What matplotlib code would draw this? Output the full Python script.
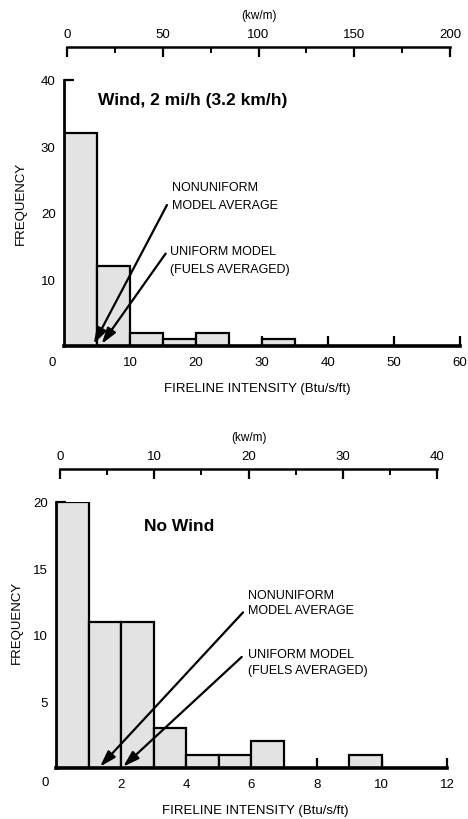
import matplotlib
matplotlib.use("Agg")
import matplotlib.pyplot as plt

plt.rcParams['font.family'] = ['Liberation Sans', 'DejaVu Sans']

# ---------------- data ----------------
wind_bin_edges = [0, 5, 10, 15, 20, 25, 30]
wind_counts = [32, 12, 2, 1, 2, 0, 1]
wind_bin_width = 5
wind_nonuniform_avg = 4.5
wind_uniform_avg = 5.7
wind_xticks = [10, 20, 30, 40, 50, 60]
wind_yticks = [10, 20, 30, 40]
wind_kw_ticks = [0, 50, 100, 150, 200]
wind_kw_minor = [25, 75, 125, 175]

nowind_bin_edges = [0, 1, 2, 3, 4, 5, 6, 7, 8, 9]
nowind_counts = [20, 11, 11, 3, 1, 1, 2, 0, 0, 1]
nowind_bin_width = 1
nowind_nonuniform_avg = 1.35
nowind_uniform_avg = 2.06
nowind_xticks = [2, 4, 6, 8, 10, 12]
nowind_yticks = [5, 10, 15, 20]
nowind_kw_ticks = [0, 10, 20, 30, 40]
nowind_kw_minor = [5, 15, 25, 35]

W, H = 468, 820
fig = plt.figure(figsize=(W / 100, H / 100), dpi=100)

TICK_FS = 9.5
LABEL_FS = 9.5
ANN_FS = 9


def rect(l, r, top, bot):
    return [l / W, 1 - bot / H, (r - l) / W, (bot - top) / H]


def main_axes(pos, xmax, ymax, edges, counts, width, xticks, yticks):
    ax = fig.add_axes(pos)
    ax.bar(edges, counts, width=width, align='edge', facecolor='#e3e3e3',
           edgecolor='black', linewidth=1.6, zorder=2)
    ax.set_xlim(0, xmax)
    ax.set_ylim(0, ymax)
    for s in ['top', 'right']:
        ax.spines[s].set_visible(False)
    ax.spines['left'].set_linewidth(2)
    ax.spines['bottom'].set_linewidth(2.6)
    ax.spines['bottom'].set_zorder(3)
    ax.set_xticks(xticks)
    ax.set_yticks(yticks)
    ax.tick_params(axis='both', direction='in', length=7, width=1.6,
                   labelsize=TICK_FS)
    ax.tick_params(axis='x', pad=7)
    ax.tick_params(axis='y', pad=6)
    ax.set_ylabel('FREQUENCY', fontsize=LABEL_FS)
    ax.set_xlabel('FIRELINE INTENSITY (Btu/s/ft)', fontsize=LABEL_FS)
    return ax


def kw_axes(pos, xmax, ticks, minor):
    ax = fig.add_axes(pos)
    ax.set_xlim(0, xmax)
    ax.set_ylim(0, 1)
    for s in ['bottom', 'left', 'right']:
        ax.spines[s].set_visible(False)
    ax.spines['top'].set_linewidth(1.8)
    ax.set_yticks([])
    ax.xaxis.tick_top()
    ax.set_xticks(ticks)
    ax.set_xticks(minor, minor=True)
    ax.tick_params(axis='x', which='major', direction='in', length=7,
                   width=1.6, labelsize=TICK_FS, pad=5)
    ax.tick_params(axis='x', which='minor', direction='in', length=4,
                   width=1.4)
    ax.xaxis.set_label_position('top')
    ax.set_xlabel('(kw/m)', fontsize=8.5, labelpad=7)
    ax.patch.set_visible(False)
    return ax


def arrow(ax, tip, start):
    ax.annotate('', xy=tip, xytext=start,
                arrowprops=dict(arrowstyle='-|>,head_length=0.8,head_width=0.25',
                                lw=1.6, color='black', shrinkA=0, shrinkB=0,
                                mutation_scale=12), zorder=5)


# ---------------- top: wind ----------------
ax1 = main_axes(rect(64, 460, 81, 347), 60, 40, wind_bin_edges, wind_counts,
                wind_bin_width, wind_xticks, wind_yticks)
ax1.yaxis.set_label_coords(-0.093, 0.54)
ax1.xaxis.set_label_coords(0.487, -0.137)
ax1.text(-1.8, -2.4, '0', ha='center', va='center', fontsize=TICK_FS)
ax1.text(5.1, 37.1, 'Wind, 2 mi/h (3.2 km/h)', fontsize=12.5,
         fontweight='bold', ha='left', va='center')
ax1.text(16.4, 22.55, 'NONUNIFORM\nMODEL AVERAGE', fontsize=ANN_FS,
         ha='left', va='center', linespacing=1.75)
ax1.text(16.1, 12.9, 'UNIFORM MODEL\n(FUELS AVERAGED)', fontsize=ANN_FS,
         ha='left', va='center', linespacing=1.65)
arrow(ax1, (wind_nonuniform_avg, 0.3), (15.6, 21.2))
arrow(ax1, (wind_uniform_avg, 0.3), (15.4, 13.9))

kw_axes(rect(67, 450, 48, 58), 200, wind_kw_ticks, wind_kw_minor)

# ---------------- bottom: no wind ----------------
ax2 = main_axes(rect(56, 447, 503, 769), 12, 20, nowind_bin_edges,
                nowind_counts, nowind_bin_width, nowind_xticks, nowind_yticks)
ax2.yaxis.set_label_coords(-0.085, 0.55)
ax2.xaxis.set_label_coords(0.509, -0.137)
ax2.text(-0.33, -1.05, '0', ha='center', va='center', fontsize=TICK_FS)
ax2.text(2.7, 18.2, 'No Wind', fontsize=12.5, fontweight='bold',
         ha='left', va='center')
ax2.text(5.89, 12.44, 'NONUNIFORM\nMODEL AVERAGE', fontsize=ANN_FS,
         ha='left', va='center', linespacing=1.3)
ax2.text(5.89, 7.97, 'UNIFORM MODEL\n(FUELS AVERAGED)', fontsize=ANN_FS,
         ha='left', va='center', linespacing=1.5)
arrow(ax2, (nowind_nonuniform_avg, 0.1), (5.74, 11.7))
arrow(ax2, (nowind_uniform_avg, 0.1), (5.7, 8.35))

kw_axes(rect(60, 437, 470, 480), 40, nowind_kw_ticks, nowind_kw_minor)

fig.savefig('out.png', dpi=100)
